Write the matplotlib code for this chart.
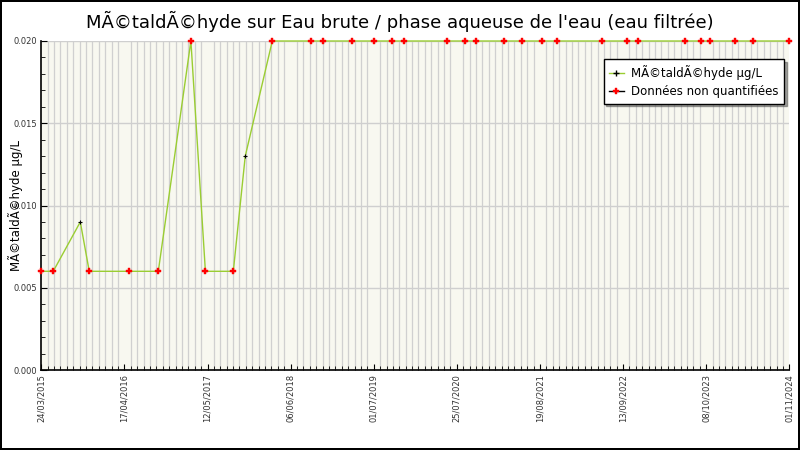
import matplotlib
matplotlib.use("Agg")
import matplotlib.pyplot as plt
import matplotlib.dates as mdates
from matplotlib.ticker import FixedLocator, MultipleLocator, FormatStrFormatter
from matplotlib.lines import Line2D
import numpy as np

# sample dates, values (µg/L) and whether the value was not quantified
dates = ["2015-03-24", "2015-05-19", "2015-09-23", "2015-11-04", "2016-05-10",
         "2016-09-23", "2017-02-23", "2017-05-02", "2017-09-10", "2017-11-05",
         "2018-03-12", "2018-09-11", "2018-11-06", "2019-03-22", "2019-07-04",
         "2019-09-26", "2019-11-21", "2020-06-10", "2020-09-03", "2020-10-24",
         "2021-03-05", "2021-05-27", "2021-08-30", "2021-11-08", "2022-06-07",
         "2022-10-03", "2022-11-21", "2023-06-29", "2023-09-15", "2023-10-27",
         "2024-02-22", "2024-05-16", "2024-11-01"]
values = [0.006, 0.006, 0.009, 0.006, 0.006,
          0.006, 0.020, 0.006, 0.006, 0.013,
          0.020, 0.020, 0.020, 0.020, 0.020,
          0.020, 0.020, 0.020, 0.020, 0.020,
          0.020, 0.020, 0.020, 0.020, 0.020,
          0.020, 0.020, 0.020, 0.020, 0.020,
          0.020, 0.020, 0.020]
non_quantified = [1, 1, 0, 1, 1,
                  1, 1, 1, 1, 0,
                  1, 1, 1, 1, 1,
                  1, 1, 1, 1, 1,
                  1, 1, 1, 1, 1,
                  1, 1, 1, 1, 1,
                  1, 1, 1]

title = "MÃ©taldÃ©hyde sur Eau brute / phase aqueuse de l'eau (eau filtrée)"
ylabel = "MÃ©taldÃ©hyde µg/L"
series_name = "MÃ©taldÃ©hyde µg/L"
nq_name = "Données non quantifiées"

x = mdates.datestr2num(dates)
y = np.array(values)
nq = np.array(non_quantified, dtype=bool)

fig = plt.figure(figsize=(8, 4.5), dpi=100)
fig.patch.set_edgecolor("black")
fig.patch.set_linewidth(1.5)

ax = fig.add_axes([41.3 / 800, 80 / 450, 748 / 800, 329 / 450])
ax.set_facecolor("#f8f8f0")

ax.plot(x, y, color="#9acd32", linewidth=1, marker="+", markersize=3,
        markeredgecolor="black", markeredgewidth=0.8, zorder=3, clip_on=False)
ax.plot(x[nq], y[nq], linestyle="none", marker="P", markersize=4.6,
        color="red", markeredgecolor="red", markeredgewidth=0.3, zorder=4,
        clip_on=False)

ax.set_xlim(x[0], x[-1])
ax.set_ylim(0, 0.02)

# major ticks every 390 days, minor every 30 days
ax.xaxis.set_major_locator(FixedLocator(np.arange(x[0], x[-1] + 1, 390)))
ax.xaxis.set_minor_locator(FixedLocator(np.arange(x[0], x[-1] + 1, 30)))
ax.xaxis.set_major_formatter(mdates.DateFormatter("%d/%m/%Y"))
ax.yaxis.set_major_locator(MultipleLocator(0.005))
ax.yaxis.set_minor_locator(MultipleLocator(0.001))
ax.yaxis.set_major_formatter(FormatStrFormatter("%.3f"))

ax.grid(True, axis="x", which="minor", color="#d0d0d0", linewidth=0.9)
ax.grid(True, axis="y", which="major", color="#cfcfcf", linewidth=1)
ax.set_axisbelow(True)

for s in ("top", "right"):
    ax.spines[s].set_visible(False)
for s in ("left", "bottom"):
    ax.spines[s].set_linewidth(1.2)

ax.tick_params(axis="both", which="both", direction="in", labelsize=6,
               labelcolor="#333333", pad=3)
ax.tick_params(axis="both", which="major", length=4)
ax.tick_params(axis="both", which="minor", length=3)
plt.setp(ax.get_xticklabels(), rotation=90)

ax.set_ylabel(ylabel, fontsize=8.5)
ax.yaxis.set_label_coords(-0.024, 0.5)
fig.text(0.5, 1 - 21 / 450, title, ha="center", va="center", fontsize=13)

handles = [
    Line2D([], [], color="#9acd32", linewidth=1, marker="+", markersize=4,
           markeredgecolor="black"),
    Line2D([], [], color="black", linewidth=1, marker="P", markersize=4.6,
           markerfacecolor="red", markeredgecolor="red", markeredgewidth=0.3),
]
leg = ax.legend(handles, [series_name, nq_name], loc="upper right",
                bbox_to_anchor=(0.993, 0.945), borderaxespad=0, fontsize=8.5,
                fancybox=False, shadow=True, framealpha=1, handlelength=1.2,
                borderpad=0.5, labelspacing=0.4, handletextpad=0.6)
leg.get_frame().set_edgecolor("black")
leg.get_frame().set_linewidth(1)
leg.get_frame().set_facecolor("white")

fig.savefig("out.png", dpi=100, edgecolor=fig.get_edgecolor())
